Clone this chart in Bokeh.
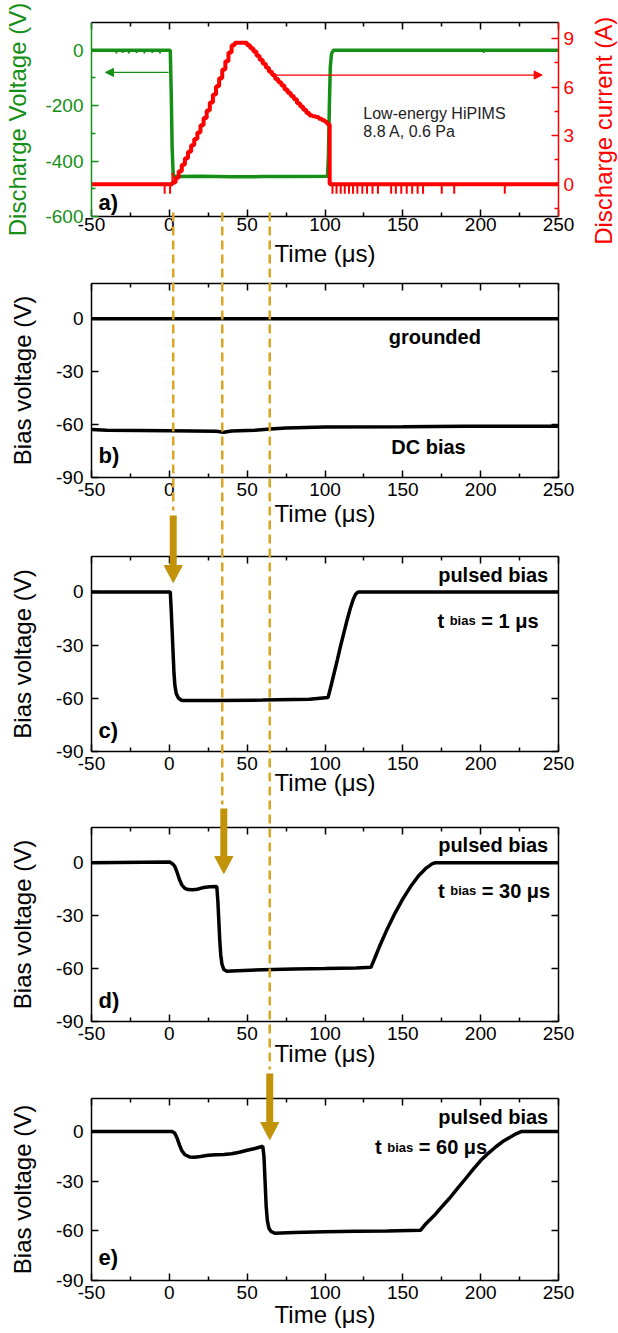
import math
from bokeh.plotting import figure
from bokeh.models import Range1d, LinearAxis, FixedTicker, Label, Arrow, NormalHead
from bokeh.layouts import column
from bokeh.embed import file_html
from bokeh.resources import INLINE
from bokeh.core.properties import value

FONT = "Liberation Sans"
GREEN = "#168F16"
RED = "#FF0000"
GOLD_DASH = "#D9A524"
GOLD = "#C29208"
INK = "black"

# ---------------- data ----------------
time_ticks = [-50, 0, 50, 100, 150, 200, 250]
time_minor = [-25, 25, 75, 125, 175, 225]
volt_ticks = [-600, -400, -200, 0]
volt_minor = [-500, -300, -100]
curr_ticks = [0, 3, 6, 9]
curr_minor = [-1.5, 1.5, 4.5, 7.5]
bias_ticks = [-90, -60, -30, 0]

# (a) discharge voltage (V) and current (A)
volt_t = [-50, 0.6, 1.2, 1.8, 2.4, 3.0, 4.0, 20, 40, 60, 80, 101.6, 102.2, 102.8, 103.4, 104.2, 105.5, 250]
volt_v = [0, 0, -150, -350, -440, -460, -456, -455, -457, -456, -456, -455, -380, -200, -60, -12, 0, 0]
volt_noise_t = [-34, -30, -26, -21, -16, -11, -6, 202]
volt_noise_v = [-12, -10, -12, -10, -12, -10, -12, -10]

curr_t = [-50, 2, 4, 6, 8, 10, 12, 14, 16, 18, 20, 22, 24, 26, 28, 30, 32, 34, 36, 38, 40,
          42, 44, 46, 48, 50, 52, 54, 56, 58, 60, 62, 64, 66, 68, 70, 72, 74, 76, 78, 80,
          82, 84, 86, 88, 90, 92, 94, 96, 98, 100, 101.5, 103, 250]
curr_a = [0, 0.1, 0.4, 0.8, 1.2, 1.6, 2.0, 2.4, 2.8, 3.2, 3.65, 4.1, 4.55, 5.05, 5.55, 6.05, 6.55, 7.1, 7.6, 8.15, 8.6,
          8.75, 8.75, 8.75, 8.75, 8.6, 8.4, 8.2, 7.95, 7.7, 7.45, 7.2, 6.95, 6.75, 6.5, 6.3, 6.1, 5.85, 5.65, 5.45, 5.25,
          5.0, 4.8, 4.6, 4.4, 4.25, 4.2, 4.15, 4.05, 3.95, 3.85, 3.7, 0, 0]
curr_spike_t = [-3.0, 0.5, 2.0, 104.8, 107.4, 110.1, 112.7, 115.4, 118.0, 120.8, 124.0, 127.0, 130.5, 134.0,
                142.5, 145.5, 149.0, 152.5, 156.0, 159.5, 163.0, 175.0, 183.0, 215.5]
curr_spike_a = [-0.6, -0.6, 0.7, -0.6, -0.6, -0.6, -0.6, -0.6, -0.6, -0.6, -0.6, -0.6, -0.6, -0.6,
                -0.6, -0.6, -0.6, -0.6, -0.6, -0.6, -0.6, -0.6, -0.6, -0.6]

# (b) grounded and DC bias
grounded_t = [-50, 0, 50, 100, 150, 200, 250]
grounded_v = [0, 0, 0, 0, 0, 0, 0]
dc_t = [-50, -40, 0, 30, 35, 40, 55, 65, 75, 100, 150, 190, 250]
dc_v = [-62.8, -63.2, -63.5, -63.8, -64.3, -63.6, -63.2, -62.5, -62.0, -61.3, -61.2, -61.0, -61.0]

# (c) pulsed bias, t_bias = 1 us
c_t = [-50, 0.6, 1.2, 1.8, 2.4, 3.0, 3.6, 4.5, 6.0, 8.0, 30, 60, 90, 102, 104, 106, 108, 110,
       112, 114, 116, 118, 119.5, 121, 122, 250]
c_v = [0, 0, -10, -22, -34, -46, -53, -57.5, -60, -61.2, -61.2, -61.0, -60.5, -59.5, -52.5, -45.3, -38, -30.5,
       -23.5, -16.5, -10, -4.5, -1.5, -0.2, 0, 0]

# (d) pulsed bias, t_bias = 30 us
d_t = [-50, 0, 2, 3.5, 5, 6.5, 8, 10, 12, 15, 18, 20, 22, 26, 30.5, 31.2, 31.8, 32.4, 33.0, 33.8,
       35, 37, 40, 60, 80, 100, 120, 129.5, 132, 135, 140, 145, 150, 155, 160, 165, 169, 171, 250]
d_v = [0, 0.5, -0.5, -2, -5.5, -9.5, -12.5, -14.5, -15.2, -15.3, -15, -14.5, -14, -13.6, -13.5, -22, -33, -44,
       -52, -57.5, -60.5, -61.5, -61.3, -60.6, -60.2, -60.0, -59.6, -59.3, -54, -47.5, -37.5, -28.5, -20.5,
       -13.5, -7.5, -3, -0.5, 0, 0]

# (e) pulsed bias, t_bias = 60 us
e_t = [-50, 0, 2, 3.5, 5, 6.5, 8, 10, 13, 16, 20, 25, 30, 35, 40, 45, 50, 55, 59, 60, 60.8, 61.5, 62.2, 63.0,
       64.0, 65.5, 68, 80, 100, 120, 140, 161.3, 165, 170, 175, 180, 185, 190, 195, 200, 205, 210, 215, 220,
       223, 226, 250]
e_v = [0, 0, 0, -1, -4, -8, -11.5, -14, -15.3, -15.5, -15, -14.3, -14, -13.8, -13.4, -12.5, -11.3, -10.2, -9.2,
       -8.8, -15, -30, -45, -54, -58.5, -60.5, -61.5, -61.0, -60.6, -60.3, -60.1, -59.7, -55.5, -50.9, -45.5,
       -40.3, -34.5, -28.8, -23, -17.5, -13, -9, -5.5, -2.8, -1.2, 0, 0]

# guide lines and arrows linking the panels (time in us, vertical extent in page pixels)
guide_t = [2.5, 34.0, 64.5]
guide_top_px = [212, 212, 212]
guide_bottom_px = [510, 804, 1069]
arrow_t = [2.5, 35.0, 64.5]
arrow_tail_px = [515, 808, 1073]
arrow_tip_px = [582, 873, 1139]

# ---------------- layout ----------------
FIG_W = 618
B_LEFT = 91
FRAME_W = 467
B_RIGHT = FIG_W - B_LEFT - FRAME_W
PAGE_TOP = 0
TICK_FONT = "19px"
TITLE_FONT = "24px"
# border_top, frame_height, border_bottom, tick-label standoff, time-title standoff
panel_layout = [
    (22, 194, 56, 1, 6),
    (11, 194, 56, 5, 1),
    (23, 195, 52, 5, -4),
    (24, 194, 52, 5, -3),
    (25, 182, 52, 5, -1),
]
frame_top, frame_bot = [], []
y = PAGE_TOP
for bt, fh, bb, _, _ in panel_layout:
    frame_top.append(y + bt)
    frame_bot.append(y + bt + fh)
    y += bt + fh + bb

T_PER_PX = 300.0 / FRAME_W
HEAD_HALF_W = 9 * T_PER_PX
HEAD_LEN = 17


def style(ax, color, ticks, labels=True):
    ax.axis_line_color = color
    ax.axis_line_width = 1.5
    ax.major_tick_line_color = color
    ax.minor_tick_line_color = color
    ax.major_tick_line_width = 1.5
    ax.minor_tick_line_width = 1.5
    ax.major_tick_in = 7
    ax.major_tick_out = 0
    ax.minor_tick_in = 4
    ax.minor_tick_out = 0
    ax.major_label_text_font = FONT
    ax.axis_label_text_font = FONT
    ax.axis_label_text_font_size = TITLE_FONT
    ax.axis_label_text_font_style = "normal"
    ax.axis_label_text_color = color
    if labels:
        ax.major_label_text_color = color
        ax.major_label_text_font_size = TICK_FONT
        ax.major_label_overrides = {t: str(t) for t in ticks}
    else:
        ax.major_label_text_color = None
        ax.major_label_text_font_size = "1px"
        ax.major_label_standoff = 0


def make_panel(i, y_start, y_end):
    bt, fh, bb, lab_standoff, t_standoff = panel_layout[i]
    p = figure(width=FIG_W, height=bt + fh + bb, x_range=Range1d(-50, 250), y_range=Range1d(y_start, y_end),
               output_backend="svg", toolbar_location=None,
               min_border_left=B_LEFT, min_border_right=B_RIGHT, min_border_top=bt, min_border_bottom=bb)
    p.xgrid.visible = False
    p.ygrid.visible = False
    p.outline_line_color = None
    p.background_fill_color = "white"
    p.border_fill_color = "white"
    p.extra_y_ranges = {"page": Range1d(start=frame_bot[i], end=frame_top[i])}
    xa = p.xaxis[0]
    xa.ticker = FixedTicker(ticks=time_ticks, minor_ticks=time_minor)
    style(xa, "black", time_ticks)
    xa.major_label_standoff = lab_standoff
    xa.axis_label = "Time (μs)"
    xa.axis_label_standoff = t_standoff
    top = LinearAxis(ticker=FixedTicker(ticks=time_ticks, minor_ticks=time_minor))
    style(top, "black", time_ticks, labels=False)
    p.add_layout(top, "above")
    return p


def add_guides(p):
    p.segment(x0=guide_t, y0=guide_top_px, x1=guide_t, y1=guide_bottom_px, y_range_name="page",
              line_color=GOLD_DASH, line_width=2.5, line_dash="9 5", level="overlay")
    head_base = [tip - HEAD_LEN for tip in arrow_tip_px]
    p.segment(x0=arrow_t, y0=arrow_tail_px, x1=arrow_t, y1=head_base, y_range_name="page",
              line_color=GOLD, line_width=7, line_cap="butt", level="overlay")
    xs = [[t - HEAD_HALF_W, t + HEAD_HALF_W, t] for t in arrow_t]
    ys = [[b, b, tip] for b, tip in zip(head_base, arrow_tip_px)]
    p.patches(xs=xs, ys=ys, y_range_name="page", fill_color=GOLD, line_color=GOLD, line_width=1, level="overlay")


def panel_tag(p, text, y_start, dy):
    p.add_layout(Label(x=-50, y=y_start, x_offset=7, y_offset=dy, text=text, text_font=FONT,
                       text_font_size="22px", text_font_style="bold", text_baseline="middle",
                       text_color=INK))


def bias_y_axis(p):
    ya = p.yaxis[0]
    ya.ticker = FixedTicker(ticks=bias_ticks, minor_ticks=[])
    style(ya, "black", bias_ticks)
    ya.major_label_standoff = 8
    ya.axis_label = "Bias voltage (V)"
    ya.axis_label_standoff = 17
    right = LinearAxis(ticker=FixedTicker(ticks=bias_ticks, minor_ticks=[]))
    style(right, "black", bias_ticks, labels=False)
    p.add_layout(right, "right")


BOLD_W = {" ": 278, "=": 584, "0": 556, "1": 556, "3": 556, "6": 556, "μ": 611, "s": 556,
          "b": 611, "i": 278, "a": 556, "t": 333}


def tw(s, size):
    return sum(BOLD_W.get(c, 556) for c in s) / 1000.0 * size


def add_text_right(p, text, dx, dy, size="20px"):
    p.add_layout(Label(x=250, y=20, x_offset=dx, y_offset=-dy, text=text, text_font=FONT,
                       text_font_size=size, text_font_style="bold", text_align="right",
                       text_baseline="middle", text_color=INK))


def add_tbias(p, rest, dx_right, dy_base):
    big, small = 20, 13
    x1 = dx_right
    x2 = x1 - tw(rest, big) - tw(" ", big)
    x3 = x2 - tw("bias", small) - tw(" ", big)
    for txt, xo, sz in ((rest, x1, big), ("bias", x2, small), ("t", x3, big)):
        p.add_layout(Label(x=250, y=20, x_offset=xo, y_offset=-dy_base, text=txt, text_font=FONT,
                           text_font_size=f"{sz}px", text_font_style="bold", text_align="right",
                           text_baseline="alphabetic", text_color=INK))


# ---------------- panel a ----------------
pa = make_panel(0, -600, 100)
pa.extra_y_ranges["current"] = Range1d(-2, 10)
ya = pa.yaxis[0]
ya.ticker = FixedTicker(ticks=volt_ticks, minor_ticks=volt_minor)
style(ya, GREEN, volt_ticks)
ya.major_label_standoff = 8
ya.axis_label = "Discharge Voltage (V)"
ya.axis_label_standoff = 11
ra = LinearAxis(y_range_name="current", ticker=FixedTicker(ticks=curr_ticks, minor_ticks=curr_minor))
style(ra, RED, curr_ticks)
ra.major_label_standoff = 5
pa.add_layout(ra, "right")

pa.line(volt_t, volt_v, line_color=GREEN, line_width=3.5)
pa.segment(x0=volt_noise_t, y0=[0] * len(volt_noise_t), x1=volt_noise_t, y1=volt_noise_v,
           line_color=GREEN, line_width=2)
pa.step(curr_t, curr_a, mode="after", y_range_name="current", line_color=RED, line_width=4)
pa.segment(x0=curr_spike_t, y0=[0] * len(curr_spike_t), x1=curr_spike_t, y1=curr_spike_a,
           y_range_name="current", line_color=RED, line_width=2)
pa.add_layout(Arrow(end=NormalHead(size=8, fill_color=GREEN, line_color=GREEN),
                    x_start=-0.5, y_start=-80, x_end=-41, y_end=-80, line_color=GREEN, line_width=1.2))
pa.add_layout(Arrow(end=NormalHead(size=8, fill_color=RED, line_color=RED),
                    x_start=69, y_start=6.75, x_end=239.5, y_end=6.75, y_range_name="current",
                    line_color=RED, line_width=1.2))
pa.add_layout(Label(x=-50, y=100, x_offset=271.8, y_offset=-91.3, text="Low-energy HiPIMS", text_font=FONT,
                    text_font_size="16px", text_baseline="middle", text_color="#222222"))
pa.add_layout(Label(x=-50, y=100, x_offset=271.8, y_offset=-108.5, text="8.8 A, 0.6 Pa", text_font=FONT,
                    text_font_size="16px", text_baseline="middle", text_color="#222222"))
# right-hand axis title (reads bottom-to-top as in the original)
pa.text(x=[250], y=[3.3], text=["Discharge current (A)"], x_offset=45, angle=math.pi / 2,
        y_range_name="current", text_align="center", text_baseline="middle",
        text_font=value(FONT), text_font_size=value(TITLE_FONT), text_color=RED, level="overlay")
panel_tag(pa, "a)", -600, 14.5)
add_guides(pa)

# ---------------- panel b ----------------
pb = make_panel(1, -90, 20)
bias_y_axis(pb)
pb.line(grounded_t, grounded_v, line_color="black", line_width=3.5)
pb.line(dc_t, dc_v, line_color="black", line_width=3.5)
pb.add_layout(Label(x=-50, y=20, x_offset=343.3, y_offset=-53, text="grounded", text_font=FONT,
                    text_font_size="20px", text_font_style="bold", text_align="center", text_baseline="middle",
                    text_color=INK))
pb.add_layout(Label(x=-50, y=20, x_offset=337, y_offset=-163, text="DC bias", text_font=FONT,
                    text_font_size="20px", text_font_style="bold", text_align="center", text_baseline="middle",
                    text_color=INK))
panel_tag(pb, "b)", -90, 22)
add_guides(pb)

# ---------------- panel c ----------------
pc = make_panel(2, -90, 20)
bias_y_axis(pc)
pc.line(c_t, c_v, line_color="black", line_width=3.5)
add_text_right(pc, "pulsed bias", -10.3, 18)
add_tbias(pc, "= 1 μs", -20, 64)
panel_tag(pc, "c)", -90, 21)
add_guides(pc)

# ---------------- panel d ----------------
pd_ = make_panel(3, -90, 20)
bias_y_axis(pd_)
pd_.line(d_t, d_v, line_color="black", line_width=3.5)
add_text_right(pd_, "pulsed bias", -10.3, 17)
add_tbias(pd_, "= 30 μs", -8.3, 63)
panel_tag(pd_, "d)", -90, 21)
add_guides(pd_)

# ---------------- panel e ----------------
pe = make_panel(4, -90, 20)
bias_y_axis(pe)
pe.line(e_t, e_v, line_color="black", line_width=3.5)
add_text_right(pe, "pulsed bias", -10.3, 18)
add_tbias(pe, "= 60 μs", -71.3, 48.7)
panel_tag(pe, "e)", -90, 23)
add_guides(pe)

layout = column(pa, pb, pc, pd_, pe, spacing=0)
open("out.html", "w").write(file_html(layout, INLINE))
